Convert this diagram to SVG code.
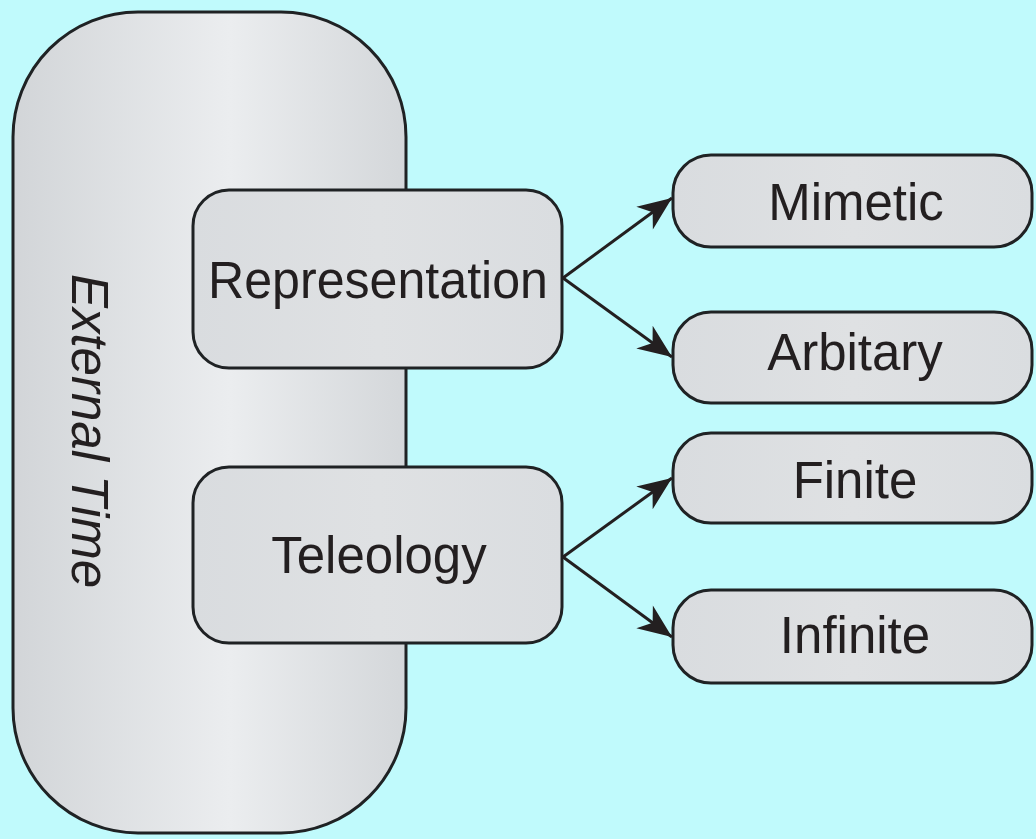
<svg xmlns="http://www.w3.org/2000/svg" width="1036" height="839" viewBox="0 0 1036 839">
  <style>
    .box { fill: url(#boxFill); stroke: #1f2224; stroke-width: 3; }
    .label { font-family: "Liberation Sans", Arial, sans-serif; font-size: 51px; fill: #231f20; text-anchor: middle; }
    .link { stroke: #231f20; stroke-width: 3; fill: none; marker-end: url(#head); }
  </style>
  <defs>
    <linearGradient id="pillFill" x1="0" y1="0" x2="1" y2="0">
      <stop offset="0" stop-color="#d2d5d8"/>
      <stop offset="0.55" stop-color="#ebedef"/>
      <stop offset="1" stop-color="#d4d7da"/>
    </linearGradient>
    <linearGradient id="boxFill" x1="0" y1="0" x2="1" y2="0">
      <stop offset="0" stop-color="#d9dcdf"/>
      <stop offset="0.5" stop-color="#dfe1e3"/>
      <stop offset="1" stop-color="#dadde0"/>
    </linearGradient>
    <marker id="head" markerUnits="userSpaceOnUse" markerWidth="40" markerHeight="40" viewBox="-36 -17 40 34" refX="0" refY="0" orient="auto">
      <path d="M0,0 L-34,-14 L-24,0 L-34,14 Z" fill="#231f20"/>
    </marker>
  </defs>

  <rect width="1036" height="839" fill="#c0fafc"/>

  <!-- outer time frame -->
  <g id="external-time">
    <rect x="13" y="12" width="393" height="821" rx="125" ry="125" fill="url(#pillFill)" stroke="#1f2224" stroke-width="3"/>
    <text class="label" font-size="53" font-style="italic" transform="translate(72,431) rotate(90)">External Time</text>
  </g>

  <g id="representation">
    <rect class="box" x="193" y="190" width="369" height="178" rx="36"/>
    <text class="label" x="378" y="298" textLength="340" lengthAdjust="spacingAndGlyphs">Representation</text>
  </g>

  <g id="teleology">
    <rect class="box" x="193" y="467" width="369" height="176" rx="36"/>
    <text class="label" x="379" y="573">Teleology</text>
  </g>

  <g id="mimetic">
    <rect class="box" x="673" y="155" width="359" height="92" rx="38"/>
    <text class="label" x="856" y="220">Mimetic</text>
  </g>

  <g id="arbitary">
    <rect class="box" x="673" y="312" width="359" height="91" rx="38"/>
    <text class="label" x="855" y="370">Arbitary</text>
  </g>

  <g id="finite">
    <rect class="box" x="673" y="433" width="359" height="90" rx="38"/>
    <text class="label" x="855" y="498">Finite</text>
  </g>

  <g id="infinite">
    <rect class="box" x="673" y="590" width="359" height="93" rx="38"/>
    <text class="label" x="855" y="653">Infinite</text>
  </g>

  <g id="connectors">
    <line class="link" x1="563" y1="278" x2="672" y2="198"/>
    <line class="link" x1="563" y1="278" x2="672" y2="357"/>
    <line class="link" x1="563" y1="557" x2="672" y2="478"/>
    <line class="link" x1="563" y1="557" x2="672" y2="637"/>
  </g>
</svg>
